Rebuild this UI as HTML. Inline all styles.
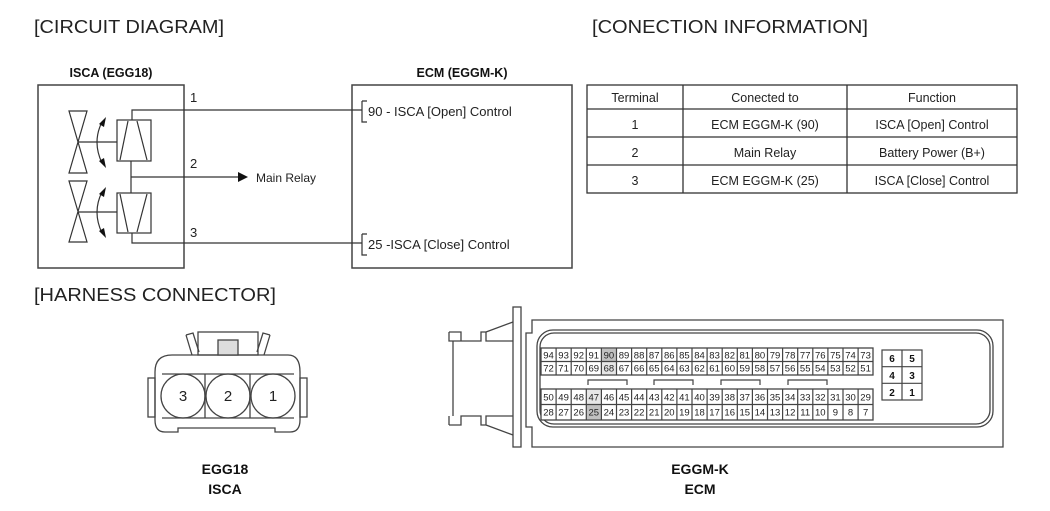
<!DOCTYPE html>
<html><head><style>
html,body{margin:0;padding:0;background:#fff;}
svg{display:block;font-family:"Liberation Sans",Arial,sans-serif;}
</style></head><body>
<svg width="1050" height="511" viewBox="0 0 1050 511" xmlns="http://www.w3.org/2000/svg">
<g fill="#222" font-size="18">
<text x="34" y="33" textLength="190" lengthAdjust="spacingAndGlyphs">[CIRCUIT DIAGRAM]</text>
<text x="592" y="33" textLength="276" lengthAdjust="spacingAndGlyphs">[CONECTION INFORMATION]</text>
<text x="34" y="301" textLength="242" lengthAdjust="spacingAndGlyphs">[HARNESS CONNECTOR]</text>
</g>
<g fill="#111" font-size="12.5" font-weight="bold" text-anchor="middle">
<text x="111" y="77">ISCA (EGG18)</text>
<text x="462" y="77">ECM (EGGM-K)</text>
</g>
<g fill="none" stroke="#444" stroke-width="1.5">
<rect x="38" y="85" width="146" height="183"/>
<rect x="352" y="85" width="220" height="183"/>
</g>
<g fill="none" stroke="#333" stroke-width="1.2">
<path d="M132 120 V110 H362 M362 101 H367 M362 101 V122 H367"/>
<path d="M132 233 V243 H362 M362 234 H367 M362 234 V255 H367"/>
<path d="M131 161 V193 M131 177 H238"/>
<rect x="117" y="120" width="34" height="41"/>
<rect x="117" y="193" width="34" height="40"/>
<path d="M120 160 L128 121 M137 121 L147 160"/>
<path d="M120 194 L128 232 M137 232 L147 194"/>
<path d="M69 111 H87 L69 173 H87 Z M69 181 H87 L69 242 H87 Z"/>
<path d="M78 142 H117 M78 212 H117"/>
<path d="M102 122 Q92 142 102 163 M102 192 Q92 212 102 233"/>
</g>
<g fill="#111">
<path d="M238 172 L248 177 L238 182 Z"/>
<path d="M99 124 L106 117 L104 127 Z M99 161 L106 168 L104 158 Z M99 194 L106 187 L104 197 Z M99 231 L106 238 L104 228 Z"/>
</g>
<g fill="#222" font-size="13">
<text x="190" y="102">1</text><text x="190" y="168">2</text><text x="190" y="237">3</text>
<text x="256" y="182" font-size="12">Main Relay</text>
<text x="368" y="116">90 - ISCA [Open] Control</text>
<text x="368" y="249">25 -ISCA [Close] Control</text>
</g>
<g fill="none" stroke="#333" stroke-width="1.3">
<rect x="587" y="85" width="430" height="108"/>
<path d="M587 109 H1017 M587 137 H1017 M587 165 H1017 M683 85 V193 M847 85 V193"/>
</g>
<g fill="#222" font-size="12.5" text-anchor="middle">
<text x="635" y="102">Terminal</text><text x="765" y="102">Conected to</text><text x="932" y="102">Function</text>
<text x="635" y="129">1</text><text x="765" y="129">ECM EGGM-K (90)</text><text x="932" y="129">ISCA [Open] Control</text>
<text x="635" y="157">2</text><text x="765" y="157">Main Relay</text><text x="932" y="157">Battery Power (B+)</text>
<text x="635" y="185">3</text><text x="765" y="185">ECM EGGM-K (25)</text><text x="932" y="185">ISCA [Close] Control</text>
</g>
<g fill="none" stroke="#444" stroke-width="1.3">
<path d="M155 372 Q155 355 172 355 H288 Q300 355 300 372 V420 Q300 432 290 432 H275 V428 H178 V432 H165 Q155 432 155 420 Z"/>
<rect x="148" y="378" width="7" height="39"/>
<rect x="300" y="378" width="7" height="39"/>
<rect x="198" y="332" width="60" height="23"/>
<rect x="218" y="340" width="20" height="15" fill="#ddd"/>
<path d="M186 335 L193 333 L199 352 M186 335 L192 355"/>
<path d="M270 335 L263 333 L257 352 M270 335 L264 355"/>
<path d="M162 374 H294 M162 418 H294 M205 374 V418 M250 374 V418"/>
<circle cx="183" cy="396" r="22"/><circle cx="228" cy="396" r="22"/><circle cx="273" cy="396" r="22"/>
</g>
<g fill="#222" font-size="15" text-anchor="middle">
<text x="183" y="401">3</text><text x="228" y="401">2</text><text x="273" y="401">1</text>
</g>
<g fill="#111" font-size="14" font-weight="bold" text-anchor="middle">
<text x="225" y="474">EGG18</text><text x="225" y="494">ISCA</text>
<text x="700" y="474">EGGM-K</text><text x="700" y="494">ECM</text>
</g>
<g fill="none" stroke="#444" stroke-width="1.3">
<rect x="513" y="307" width="8" height="140"/>
<path d="M532 447 V427 H526 V333 H532 V320 H1003 V447 Z"/>
<rect x="537" y="330" width="456" height="97" rx="16"/>
<rect x="540" y="333" width="450" height="91" rx="14"/>
<path d="M449 332 H461 V341 H481 V332 H486 V341 H513 M486 332 L513 322 M449 332 V341 H461"/>
<path d="M449 425 H461 V416 H481 V425 H486 V416 H513 M486 425 L513 435 M449 425 V416"/>
<path d="M453 341 V416"/>
<rect x="541" y="348" width="332" height="27" fill="#fff"/>
<rect x="541" y="389" width="332" height="31" fill="#fff"/>
</g>
<g fill="#999" opacity="0.6">
<rect x="601.4" y="348.5" width="15.1" height="13"/>
<rect x="601.4" y="361.5" width="15.1" height="13" opacity="0.4"/>
<rect x="586.3" y="389.5" width="15.1" height="15" opacity="0.4"/>
<rect x="586.3" y="404.5" width="15.1" height="15"/>
</g>
<g fill="none" stroke="#444" stroke-width="1.2">
<path d="M541 361.5 H873 M541 404.5 H873"/>
<path d="M556.1 348V375M571.2 348V375M586.3 348V375M601.4 348V375M616.5 348V375M631.6 348V375M646.7 348V375M661.8 348V375M676.9 348V375M692 348V375M707.1 348V375M722.2 348V375M737.3 348V375M752.4 348V375M767.5 348V375M782.6 348V375M797.7 348V375M812.8 348V375M827.9 348V375M843 348V375M858.1 348V375"/>
<path d="M556.1 389V420M571.2 389V420M586.3 389V420M601.4 389V420M616.5 389V420M631.6 389V420M646.7 389V420M661.8 389V420M676.9 389V420M692 389V420M707.1 389V420M722.2 389V420M737.3 389V420M752.4 389V420M767.5 389V420M782.6 389V420M797.7 389V420M812.8 389V420M827.9 389V420M843 389V420M858.1 389V420"/>
<path d="M588 385 V380 H627 V385 M654 385 V380 H693 V385 M721 385 V380 H760 V385 M788 385 V380 H827 V385"/>
<rect x="882" y="350" width="40" height="50" fill="#fff"/>
<path d="M902 350 V400 M882 366.7 H922 M882 383.3 H922"/>
</g>
<g fill="#222" font-size="9.5" text-anchor="middle">
<text y="358.5"><tspan x="548.5">94</tspan><tspan x="563.6">93</tspan><tspan x="578.7">92</tspan><tspan x="593.8">91</tspan><tspan x="608.9">90</tspan><tspan x="624">89</tspan><tspan x="639.1">88</tspan><tspan x="654.2">87</tspan><tspan x="669.3">86</tspan><tspan x="684.4">85</tspan><tspan x="699.5">84</tspan><tspan x="714.6">83</tspan><tspan x="729.7">82</tspan><tspan x="744.8">81</tspan><tspan x="759.9">80</tspan><tspan x="775">79</tspan><tspan x="790.1">78</tspan><tspan x="805.2">77</tspan><tspan x="820.3">76</tspan><tspan x="835.4">75</tspan><tspan x="850.5">74</tspan><tspan x="865.6">73</tspan></text>
<text y="371.5"><tspan x="548.5">72</tspan><tspan x="563.6">71</tspan><tspan x="578.7">70</tspan><tspan x="593.8">69</tspan><tspan x="608.9">68</tspan><tspan x="624">67</tspan><tspan x="639.1">66</tspan><tspan x="654.2">65</tspan><tspan x="669.3">64</tspan><tspan x="684.4">63</tspan><tspan x="699.5">62</tspan><tspan x="714.6">61</tspan><tspan x="729.7">60</tspan><tspan x="744.8">59</tspan><tspan x="759.9">58</tspan><tspan x="775">57</tspan><tspan x="790.1">56</tspan><tspan x="805.2">55</tspan><tspan x="820.3">54</tspan><tspan x="835.4">53</tspan><tspan x="850.5">52</tspan><tspan x="865.6">51</tspan></text>
<text y="400.5"><tspan x="548.5">50</tspan><tspan x="563.6">49</tspan><tspan x="578.7">48</tspan><tspan x="593.8">47</tspan><tspan x="608.9">46</tspan><tspan x="624">45</tspan><tspan x="639.1">44</tspan><tspan x="654.2">43</tspan><tspan x="669.3">42</tspan><tspan x="684.4">41</tspan><tspan x="699.5">40</tspan><tspan x="714.6">39</tspan><tspan x="729.7">38</tspan><tspan x="744.8">37</tspan><tspan x="759.9">36</tspan><tspan x="775">35</tspan><tspan x="790.1">34</tspan><tspan x="805.2">33</tspan><tspan x="820.3">32</tspan><tspan x="835.4">31</tspan><tspan x="850.5">30</tspan><tspan x="865.6">29</tspan></text>
<text y="415.5"><tspan x="548.5">28</tspan><tspan x="563.6">27</tspan><tspan x="578.7">26</tspan><tspan x="593.8">25</tspan><tspan x="608.9">24</tspan><tspan x="624">23</tspan><tspan x="639.1">22</tspan><tspan x="654.2">21</tspan><tspan x="669.3">20</tspan><tspan x="684.4">19</tspan><tspan x="699.5">18</tspan><tspan x="714.6">17</tspan><tspan x="729.7">16</tspan><tspan x="744.8">15</tspan><tspan x="759.9">14</tspan><tspan x="775">13</tspan><tspan x="790.1">12</tspan><tspan x="805.2">11</tspan><tspan x="820.3">10</tspan><tspan x="835.4">9</tspan><tspan x="850.5">8</tspan><tspan x="865.6">7</tspan></text>
</g>
<g fill="#111" font-size="10" font-weight="bold" text-anchor="middle">
<text x="892" y="362">6</text><text x="912" y="362">5</text>
<text x="892" y="379">4</text><text x="912" y="379">3</text>
<text x="892" y="396">2</text><text x="912" y="396">1</text>
</g>
</svg>
</body></html>
